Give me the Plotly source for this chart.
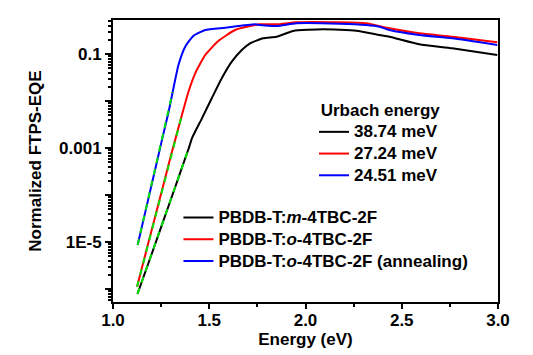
import plotly.graph_objects as go

# ---- data ----
# PBDB-T:m-4TBC-2F (black)
black_x = [1.127, 1.20, 1.26, 1.32, 1.372, 1.392, 1.410, 1.462, 1.513, 1.565, 1.617, 1.669, 1.712,
           1.780, 1.850, 1.936, 2.091, 2.264, 2.384, 2.436, 2.591, 2.762, 2.996]
black_logy = [-6.10, -5.26, -4.56, -3.86, -3.249, -3.02, -2.787, -2.362, -1.936, -1.511, -1.157, -0.909, -0.766,
              -0.660, -0.626, -0.504, -0.468, -0.498, -0.589, -0.626, -0.787, -0.872, -1.015]
# PBDB-T:o-4TBC-2F (red)
red_x = [1.125, 1.18, 1.24, 1.30, 1.358, 1.392, 1.427, 1.479, 1.547, 1.634, 1.737,
         1.763, 1.850, 1.953, 2.177, 2.315, 2.436, 2.591, 2.764, 2.996]
red_logy = [-5.945, -5.07, -4.12, -3.17, -2.291, -1.796, -1.404, -1.015, -0.717, -0.483, -0.377,
            -0.362, -0.362, -0.319, -0.319, -0.340, -0.447, -0.553, -0.626, -0.745]
# PBDB-T:o-4TBC-2F (annealing) (blue)
blue_x = [1.128, 1.18, 1.232, 1.255, 1.289, 1.315, 1.340, 1.375, 1.418, 1.479, 1.582, 1.737,
          1.763, 1.850, 1.953, 2.177, 2.315, 2.384, 2.436, 2.591, 2.762, 2.996]
blue_logy = [-5.057, -4.14, -3.22, -2.81, -2.221, -1.70, -1.228, -0.838, -0.604, -0.483, -0.434, -0.362,
             -0.377, -0.398, -0.340, -0.349, -0.377, -0.413, -0.483, -0.589, -0.660, -0.802]

# Urbach fits (green dashed)
fit_black_x = [1.127, 1.392]
fit_black_logy = [-6.10, -3.02]
fit_red_x = [1.125, 1.358]
fit_red_logy = [-5.945, -2.291]
fit_blue_x = [1.128, 1.31]
fit_blue_logy = [-5.057, -1.80]

series_names = ["PBDB-T:<i>m</i>-4TBC-2F",
                "PBDB-T:<i>o</i>-4TBC-2F",
                "PBDB-T:<i>o</i>-4TBC-2F (annealing)"]
urbach_title = "Urbach energy"
urbach_labels = ["38.74 meV", "27.24 meV", "24.51 meV"]
colors = ["#000000", "#ff0000", "#0000ff"]

x_tickvals = [1.0, 1.5, 2.0, 2.5, 3.0]
x_ticktext = ["1.0", "1.5", "2.0", "2.5", "3.0"]
y_tickvals = [1e-6, 1e-5, 1e-4, 1e-3, 1e-2, 1e-1]
y_ticktext = ["", "1E-5", "", "0.001", "", "0.1"]

FONT = "Liberation Sans, Arial, sans-serif"


def pw(a):
    return [10 ** v for v in a]


def big(t):
    # legend font is kept small so that rows are packed tightly; the text itself is 17px bold
    return '<span style="font-size:17px"><b>' + t + '</b></span>'


fig = go.Figure()
for xs, ys, c, n in [(black_x, black_logy, colors[0], series_names[0]),
                     (red_x, red_logy, colors[1], series_names[1]),
                     (blue_x, blue_logy, colors[2], series_names[2])]:
    fig.add_trace(go.Scatter(x=xs, y=pw(ys), mode="lines", name=big(n),
                             line=dict(color=c, width=2, shape="spline", smoothing=0.5),
                             legend="legend"))

for xs, ys in [(fit_black_x, fit_black_logy), (fit_red_x, fit_red_logy), (fit_blue_x, fit_blue_logy)]:
    fig.add_trace(go.Scatter(x=xs, y=pw(ys), mode="lines", showlegend=False,
                             line=dict(color="#00e000", width=2, dash="6px,6px")))

for c, lab in zip(colors, urbach_labels):
    fig.add_trace(go.Scatter(x=[None], y=[None], mode="lines", name=big(lab),
                             line=dict(color=c, width=2), legend="legend2"))

# minor tick positions on log axis
minor_vals = [m * 10.0 ** d for d in range(-7, 0) for m in range(2, 10)]

fig.update_layout(
    width=533, height=355,
    margin=dict(l=113, r=35, t=20, b=53),
    paper_bgcolor="white", plot_bgcolor="white",
    font=dict(family=FONT, size=17, color="black"),
    showlegend=True,
    legend=dict(x=0.170, y=0.3557, xanchor="left", yanchor="top",
                bgcolor="rgba(0,0,0,0)", font=dict(size=14.4, family=FONT),
                tracegroupgap=0, itemwidth=30),
    legend2=dict(x=0.522, y=0.738, xanchor="left", yanchor="top",
                 bgcolor="rgba(0,0,0,0)", font=dict(size=14.4, family=FONT),
                 title=dict(text="<b>&nbsp;" + urbach_title + "</b>", font=dict(size=17, family=FONT)),
                 itemwidth=30),
)

fig.update_xaxes(range=[1.0, 3.0], tickmode="array", tickvals=x_tickvals, ticktext=x_ticktext,
                 ticks="outside", ticklen=5, tickwidth=2, tickcolor="black",
                 showline=True, linewidth=2, linecolor="black", mirror=True,
                 showgrid=False, zeroline=False, automargin=False, ticklabelstandoff=-3,
                 tickfont=dict(family=FONT, size=17, weight="bold"),
                 title=dict(text="<b>Energy (eV)</b>", font=dict(family=FONT, size=17), standoff=0),
                 minor=dict(dtick=0.25, tick0=1.0, ticks="outside", ticklen=3, tickwidth=2,
                            tickcolor="black", showgrid=False))
fig.update_yaxes(type="log", range=[-6.27, -0.27], tickmode="array", tickvals=y_tickvals, ticktext=y_ticktext,
                 ticks="outside", ticklen=6, tickwidth=2, tickcolor="black",
                 showline=True, linewidth=2, linecolor="black", mirror=True,
                 showgrid=False, zeroline=False, automargin=False,
                 tickfont=dict(family=FONT, size=17, weight="bold"),
                 title=dict(text="<b>Normalized FTPS-EQE</b>", font=dict(family=FONT, size=17), standoff=13),
                 minor=dict(tickmode="array", tickvals=minor_vals, ticks="outside", ticklen=3, tickwidth=1.5,
                            tickcolor="black", showgrid=False))

fig.write_html("out.html", config={"displayModeBar": False},
               post_script="document.body.style.margin='0';")
